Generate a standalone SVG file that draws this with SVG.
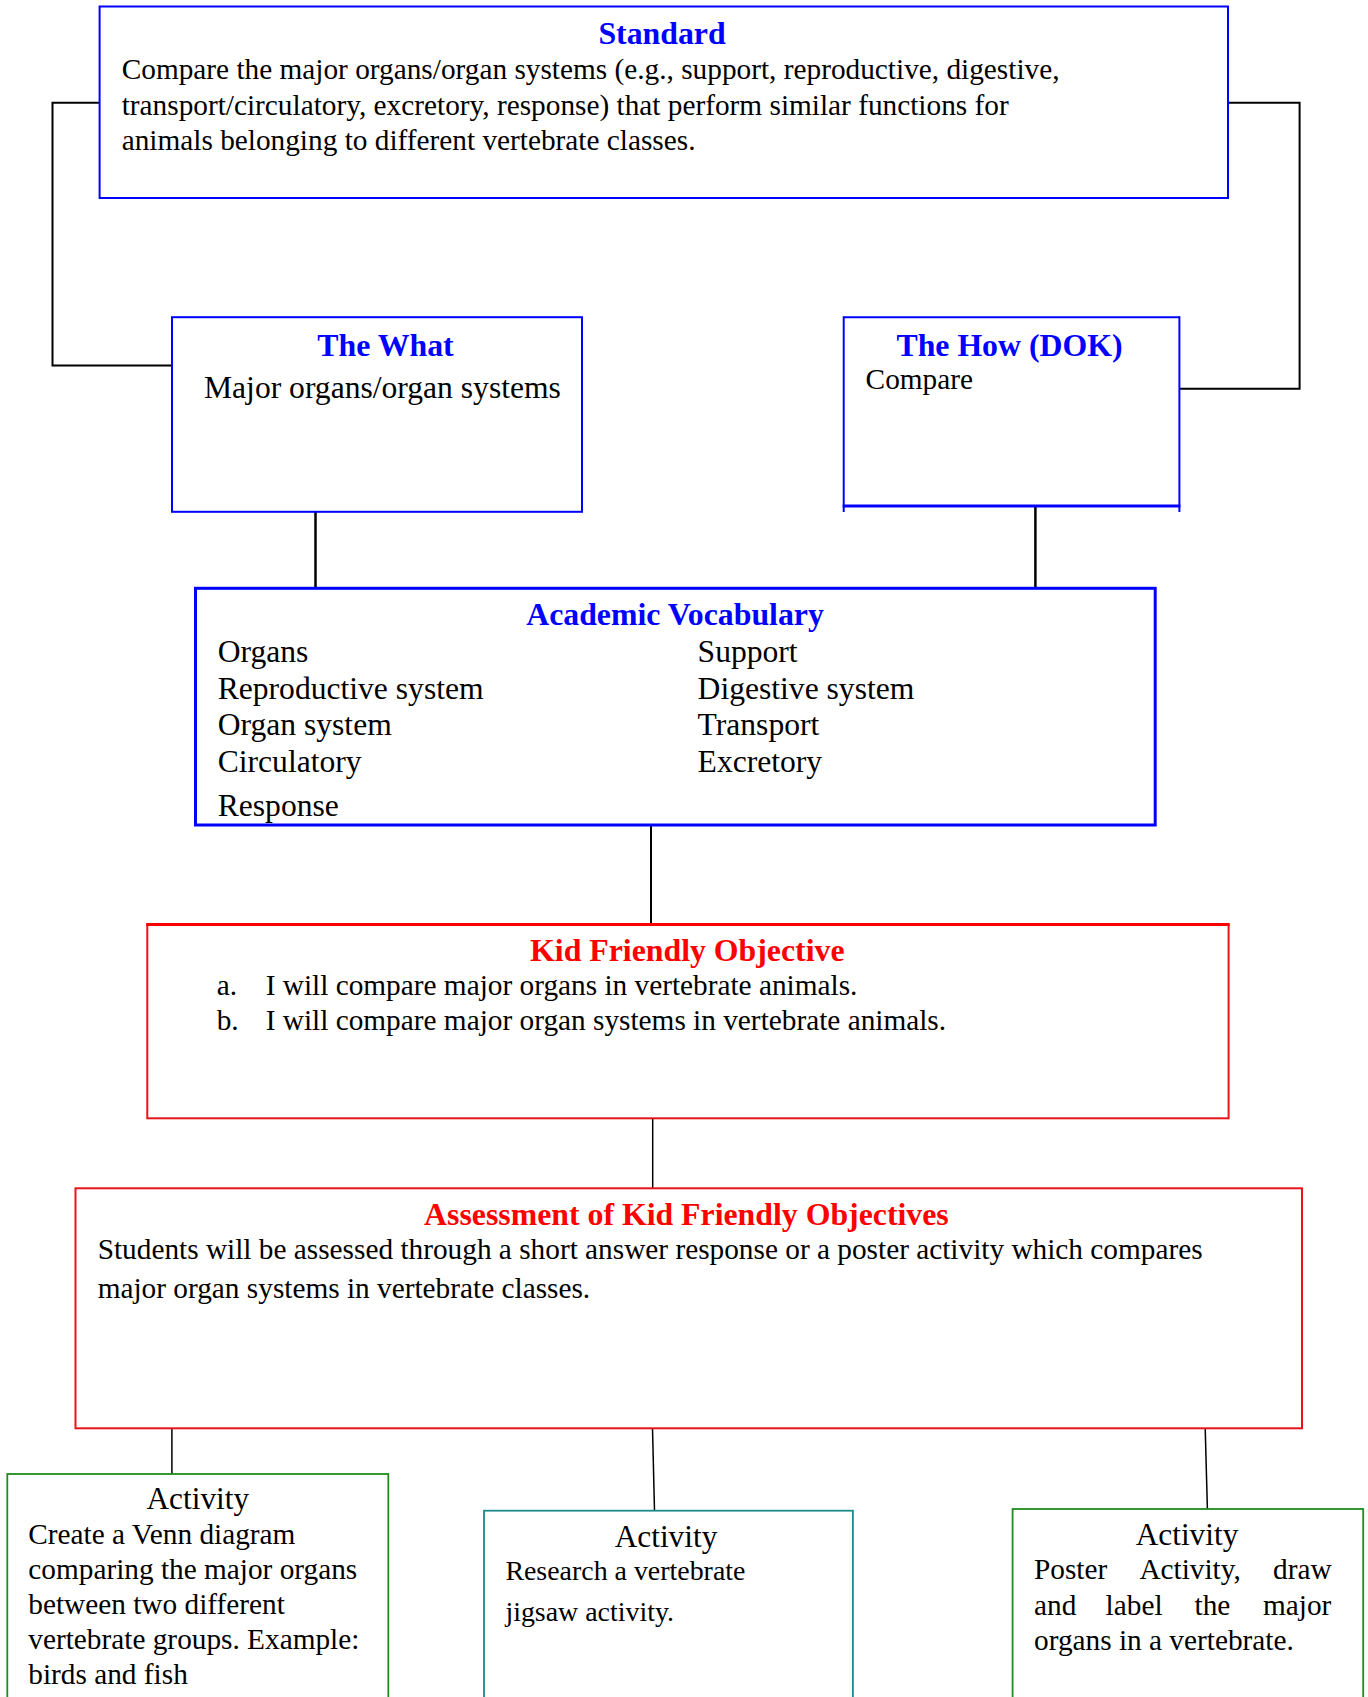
<svg xmlns="http://www.w3.org/2000/svg" width="1368" height="1697" viewBox="0 0 1368 1697">
<style>
text{font-family:"Liberation Serif","Times New Roman",serif;}
.t{font-size:31.8px;font-weight:bold;text-anchor:middle;}
.tb{fill:#0000ff;}
.tr{fill:#ff0000;}
.b{font-size:29.3px;fill:#000;}
.bv{font-size:31.6px;fill:#000;}
.blue{fill:#fff;stroke:#0000ff;stroke-width:2;}
.red{fill:#fff;stroke:#e8141c;stroke-width:2;}
.conn{fill:none;stroke:#000;stroke-width:2;}
.thin{stroke-width:1.5;}
.thick{stroke-width:2.5;}
</style>
<rect width="1368" height="1697" fill="#fff"/>
<g id="connectors">
<polyline class="conn" points="100,102.7 52.5,102.7 52.5,365.4 172,365.4"/>
<polyline class="conn" points="1228,102.7 1299.6,102.7 1299.6,388.7 1179.4,388.7"/>
<line class="conn thick" x1="315.5" y1="505.6" x2="315.5" y2="587"/>
<line class="conn thick" x1="1035.4" y1="506" x2="1035.4" y2="587"/>
<line class="conn" x1="651" y1="825" x2="651" y2="924"/>
<line class="conn thin" x1="652.7" y1="1118" x2="652.7" y2="1188"/>
<line class="conn thin" x1="171.9" y1="1428" x2="171.9" y2="1474"/>
<line class="conn thin" x1="652.5" y1="1428" x2="654.5" y2="1510.7"/>
<line class="conn thin" x1="1205.2" y1="1428" x2="1207.4" y2="1509"/>
</g>
<g id="standard">
<rect class="blue" x="99.6" y="6.5" width="1128.4" height="191.5"/>
<text class="t tb" x="662" y="43.5">Standard</text>
<text class="b" x="121.7" y="79">Compare the major organs/organ systems (e.g., support, reproductive, digestive,</text>
<text class="b" x="121.7" y="114.6">transport/circulatory, excretory, response) that perform similar functions for</text>
<text class="b" x="121.7" y="150.2">animals belonging to different vertebrate classes.</text>
</g>
<g id="the-what">
<rect class="blue" x="172" y="317.2" width="410" height="194.6"/>
<text class="t tb" x="385.5" y="355.5">The What</text>
<text class="bv" x="204" y="397.5">Major organs/organ systems</text>
</g>
<g id="the-how">
<line x1="843.7" y1="317.2" x2="1179.4" y2="317.2" stroke="#0000ff" stroke-width="2"/>
<line x1="843.7" y1="316.2" x2="843.7" y2="512" stroke="#0000ff" stroke-width="2"/>
<line x1="1179.4" y1="316.2" x2="1179.4" y2="512" stroke="#0000ff" stroke-width="2"/>
<line x1="842.7" y1="506" x2="1180.4" y2="506" stroke="#0000ff" stroke-width="3"/>
<text class="t tb" x="1009.5" y="355.8">The How (DOK)</text>
<text class="b" x="865.6" y="388.8">Compare</text>
</g>
<g id="academic-vocabulary">
<rect class="blue" x="195.5" y="588.3" width="959.7" height="236.7" style="stroke-width:3"/>
<text class="t tb" x="675" y="625">Academic Vocabulary</text>
<text class="bv" x="217.7" y="661.5">Organs</text>
<text class="bv" x="217.7" y="698.5">Reproductive system</text>
<text class="bv" x="217.7" y="735">Organ system</text>
<text class="bv" x="217.7" y="771.5">Circulatory</text>
<text class="bv" x="217.7" y="816">Response</text>
<text class="bv" x="697.6" y="661.5">Support</text>
<text class="bv" x="697.6" y="698.5">Digestive system</text>
<text class="bv" x="697.6" y="735">Transport</text>
<text class="bv" x="697.6" y="771.5">Excretory</text>
</g>
<g id="kid-friendly-objective">
<rect class="red" x="147.3" y="924.5" width="1081.3" height="193.8"/>
<line x1="146.3" y1="924.5" x2="1229.6" y2="924.5" stroke="#ff0000" stroke-width="3"/>
<text class="t tr" x="687.3" y="960.7">Kid Friendly Objective</text>
<text class="b" x="216.7" y="995">a.</text>
<text class="b" x="265.7" y="995">I will compare major organs in vertebrate animals.</text>
<text class="b" x="216.7" y="1030">b.</text>
<text class="b" x="265.7" y="1030">I will compare major organ systems in vertebrate animals.</text>
</g>
<g id="assessment">
<rect class="red" x="75.5" y="1188.3" width="1226.5" height="240"/>
<text class="t tr" x="686.4" y="1224.5">Assessment of Kid Friendly Objectives</text>
<text class="b" x="97.7" y="1259.3">Students will be assessed through a short answer response or a poster activity which compares</text>
<text class="b" x="97.7" y="1298.3">major organ systems in vertebrate classes.</text>
</g>
<g id="activity-venn">
<rect x="7.3" y="1474" width="381" height="240" fill="#fff" stroke="#1e8c1e" stroke-width="1.8"/>
<text class="bv" x="197.8" y="1509.3" style="text-anchor:middle;font-size:31.3px">Activity</text>
<text class="b" x="28.3" y="1544">Create a Venn diagram</text>
<text class="b" x="28.3" y="1578.5">comparing the major organs</text>
<text class="b" x="28.3" y="1613.5">between two different</text>
<text class="b" x="28.3" y="1649">vertebrate groups. Example:</text>
<text class="b" x="28.3" y="1683.5">birds and fish</text>
</g>
<g id="activity-research">
<rect x="484" y="1510.7" width="368.9" height="210" fill="#fff" stroke="#1f8a8a" stroke-width="1.8"/>
<text class="bv" x="666" y="1546.7" style="text-anchor:middle;font-size:31.3px">Activity</text>
<text class="b" x="505.4" y="1580" style="font-size:27.9px">Research a vertebrate</text>
<text class="b" x="505.4" y="1621" style="font-size:27.9px">jigsaw activity.</text>
</g>
<g id="activity-poster">
<rect x="1012.6" y="1509" width="350.6" height="210" fill="#fff" stroke="#1e8c1e" stroke-width="1.8"/>
<text class="bv" x="1187" y="1545" style="text-anchor:middle;font-size:31.3px">Activity</text>
<text class="b" y="1579.3"><tspan x="1034">Poster</tspan><tspan x="1139.4">Activity,</tspan><tspan x="1273">draw</tspan></text>
<text class="b" y="1615"><tspan x="1034">and</tspan><tspan x="1105.6">label</tspan><tspan x="1194.5">the</tspan><tspan x="1263">major</tspan></text>
<text class="b" x="1034" y="1650">organs in a vertebrate.</text>
</g>
</svg>
